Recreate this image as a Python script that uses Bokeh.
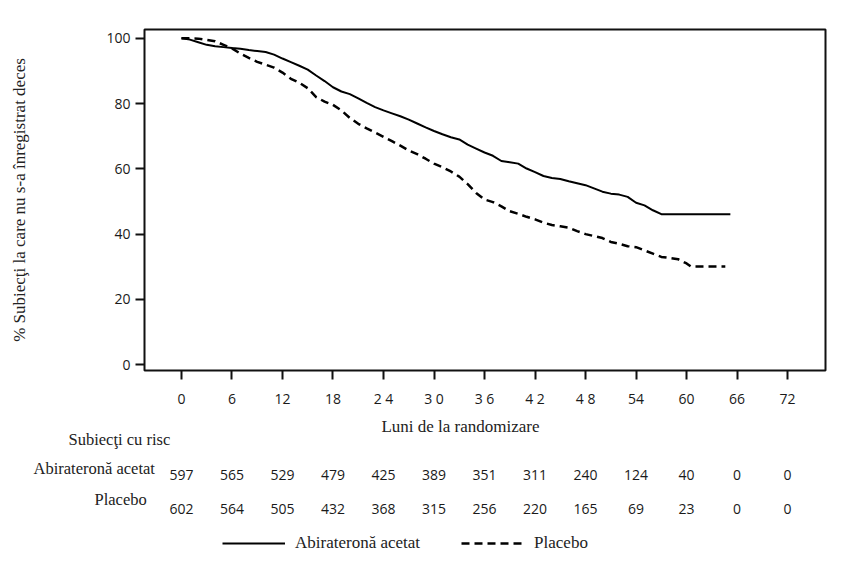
import numpy as np
from bokeh.plotting import figure
from bokeh.layouts import column
from bokeh.models import Range1d, FixedTicker, Legend, LegendItem
from bokeh.core.properties import value
from bokeh.embed import file_html
from bokeh.resources import INLINE

# ---- data -----------------------------------------------------------------
tick_months = [0, 6, 12, 18, 24, 30, 36, 42, 48, 54, 60, 66, 72]
tick_labels = ["0", "6", "12", "18", "2 4", "3 0", "3 6", "4 2", "4 8",
               "54", "60", "66", "72"]

abi_months = [0, 1, 2, 3, 4, 5, 6, 7, 8, 9, 10, 11, 12, 13, 14, 15, 16, 17,
              18, 19, 20, 21, 22, 23, 24, 25, 26, 27, 28, 29, 30, 31, 32, 33,
              34, 35, 36, 37, 38, 39, 40, 41, 42, 43, 44, 45, 46, 47, 48, 49,
              50, 51, 52, 53, 54, 55, 56, 57, 65.2]
abi_surv = [100, 99.6, 98.8, 98.0, 97.6, 97.3, 97.0, 96.8, 96.4, 96.1, 95.8,
            95.0, 93.8, 92.7, 91.6, 90.4, 88.6, 86.9, 85.0, 83.7, 82.9, 81.6,
            80.2, 78.9, 77.9, 77.0, 76.1, 75.1, 73.9, 72.7, 71.6, 70.6, 69.7,
            69.0, 67.4, 66.2, 65.0, 64.0, 62.4, 62.0, 61.6, 60.1, 59.0, 57.8,
            57.2, 56.9, 56.2, 55.6, 55.0, 54.0, 53.0, 52.4, 52.1, 51.4, 49.6,
            48.8, 47.3, 46.1, 46.1]

pbo_months = [0, 1, 2, 3, 4, 5, 6, 7, 8, 9, 10, 11, 12, 13, 14, 15, 16, 17,
              18, 19, 20, 21, 22, 23, 24, 25, 26, 27, 28, 29, 30, 31, 32, 33,
              34, 35, 36, 37, 38, 39, 40, 41, 42, 43, 44, 45, 46, 47, 48, 49,
              50, 51, 52, 53, 54, 55, 56, 57, 58, 59, 60, 60.5, 64.6]
pbo_surv = [100, 100, 99.9, 99.5, 99.1, 98.0, 96.9, 95.3, 94.0, 92.8, 91.9,
            91.0, 89.5, 87.6, 86.4, 84.7, 82.0, 80.6, 79.6, 77.9, 75.6, 73.8,
            72.4, 71.1, 69.8, 68.5, 67.1, 65.6, 64.5, 63.1, 61.6, 60.5, 59.2,
            57.6, 55.3, 52.6, 50.6, 49.8, 48.5, 47.0, 46.2, 45.3, 44.5, 43.5,
            42.8, 42.4, 42.0, 40.9, 40.0, 39.4, 38.8, 37.6, 37.0, 36.3, 36.0,
            35.0, 34.0, 33.0, 32.7, 32.3, 31.0, 30.1, 30.1]

risk_abi = [597, 565, 529, 479, 425, 389, 351, 311, 240, 124, 40, 0, 0]
risk_pbo = [602, 564, 505, 432, 368, 315, 256, 220, 165, 69, 23, 0, 0]

name_abi = "Abirateronă acetat"
name_pbo = "Placebo"

# ---- geometry ---------------------------------------------------------------
W = 856
H_TOP, H_BOT = 410, 160                  # survival panel / at-risk panel
FL, FR, FT, FB = 144, 825, 29, 373       # survival frame edges (pixels)
X0, X1 = -4.39, 76.5
Y0, Y1 = -1.8, 102.7


def dx(px):
    """page pixel column -> month on the shared time scale"""
    return X0 + (px - FL) / (FR - FL) * (X1 - X0)


SANS = "Open Sans"
SERIF = "Liberation Serif"
INK = "#1a1a1a"
SERIF_INK = "#222222"

# ---- survival panel -----------------------------------------------------------
p = figure(width=W, height=H_TOP, output_backend="svg", toolbar_location=None,
           x_range=Range1d(X0, X1), y_range=Range1d(Y0, Y1),
           min_border_left=FL, min_border_right=W - FR,
           min_border_top=FT, min_border_bottom=H_TOP - FB)
p.frame_align = False
p.grid.visible = False
p.outline_line_color = "#111111"
p.outline_line_width = 2
p.border_fill_color = "white"

for ax in (p.xaxis[0], p.yaxis[0]):
    ax.axis_line_color = None
    ax.major_tick_in = 0
    ax.major_tick_out = 9
    ax.major_tick_line_width = 2
    ax.major_tick_line_color = "#111111"
    ax.minor_tick_line_color = None
    ax.major_label_text_font = SANS
    ax.major_label_text_font_size = "14px"
    ax.major_label_text_color = INK

p.xaxis.ticker = FixedTicker(ticks=tick_months)
p.xaxis.major_label_overrides = {m: t for m, t in zip(tick_months, tick_labels)}
p.xaxis.major_label_standoff = 9
p.yaxis.ticker = FixedTicker(ticks=[0, 20, 40, 60, 80, 100])
p.yaxis.major_label_standoff = 5
p.yaxis.axis_label = "% Subiecţi la care nu s-a înregistrat deces"
p.yaxis.axis_label_text_font = SERIF
p.yaxis.axis_label_text_font_style = "normal"
p.yaxis.axis_label_text_font_size = "17px"
p.yaxis.axis_label_text_color = SERIF_INK
p.yaxis.axis_label_standoff = 74

# Kaplan-Meier curves
p.line(abi_months, abi_surv, line_color="black", line_width=2)
p.line(pbo_months, pbo_surv, line_color="black", line_width=2.5,
       line_dash="8 5")

# ---- at-risk table + legend panel ----------------------------------------------
# y is expressed in page pixels (top of this panel = 410, bottom = 570)
q = figure(width=W, height=H_BOT, output_backend="svg", toolbar_location=None,
           x_range=Range1d(dx(0), dx(W)), y_range=Range1d(H_TOP + H_BOT, H_TOP),
           x_axis_location=None, y_axis_location=None, min_border=0)
q.frame_align = False
q.grid.visible = False
q.outline_line_color = None
q.border_fill_color = "white"

q.text(x=[dx(460)], y=[426], text=["Luni de la randomizare"],
       text_align="center", text_baseline="middle",
       text_font=value(SERIF), text_font_size="17px", text_color=SERIF_INK)

q.text(x=[dx(68), dx(33), dx(94)], y=[439, 468, 499],
       text=["Subiecţi cu risc", name_abi, name_pbo],
       text_align="left", text_baseline="middle",
       text_font=value(SERIF), text_font_size="16.5px", text_color=SERIF_INK)

q.text(x=tick_months, y=[474] * len(risk_abi), text=[str(c) for c in risk_abi],
       text_align="center", text_baseline="middle",
       text_font=value(SANS), text_font_size="14px", text_color=INK)
q.text(x=tick_months, y=[508] * len(risk_pbo), text=[str(c) for c in risk_pbo],
       text_align="center", text_baseline="middle",
       text_font=value(SANS), text_font_size="14px", text_color=INK)

# legend keys share the curve styles (the key renderers themselves draw nothing)
nan = np.array([np.nan])
k_abi = q.line(x=nan, y=nan, line_color="black", line_width=2)
k_pbo = q.line(x=nan, y=nan, line_color="black", line_width=2.5, line_dash="8 5")
legend = Legend(items=[LegendItem(label=name_abi, renderers=[k_abi]),
                       LegendItem(label=name_pbo, renderers=[k_pbo])],
                orientation="horizontal", location=(222, 17),
                glyph_width=63, glyph_height=20, label_standoff=10,
                spacing=41, padding=0, margin=0, border_line_color=None,
                background_fill_alpha=0, label_text_font=SERIF,
                label_text_font_size="17px", label_text_color=SERIF_INK)
q.add_layout(legend)

open("out.html", "w").write(file_html(column(p, q), INLINE))
